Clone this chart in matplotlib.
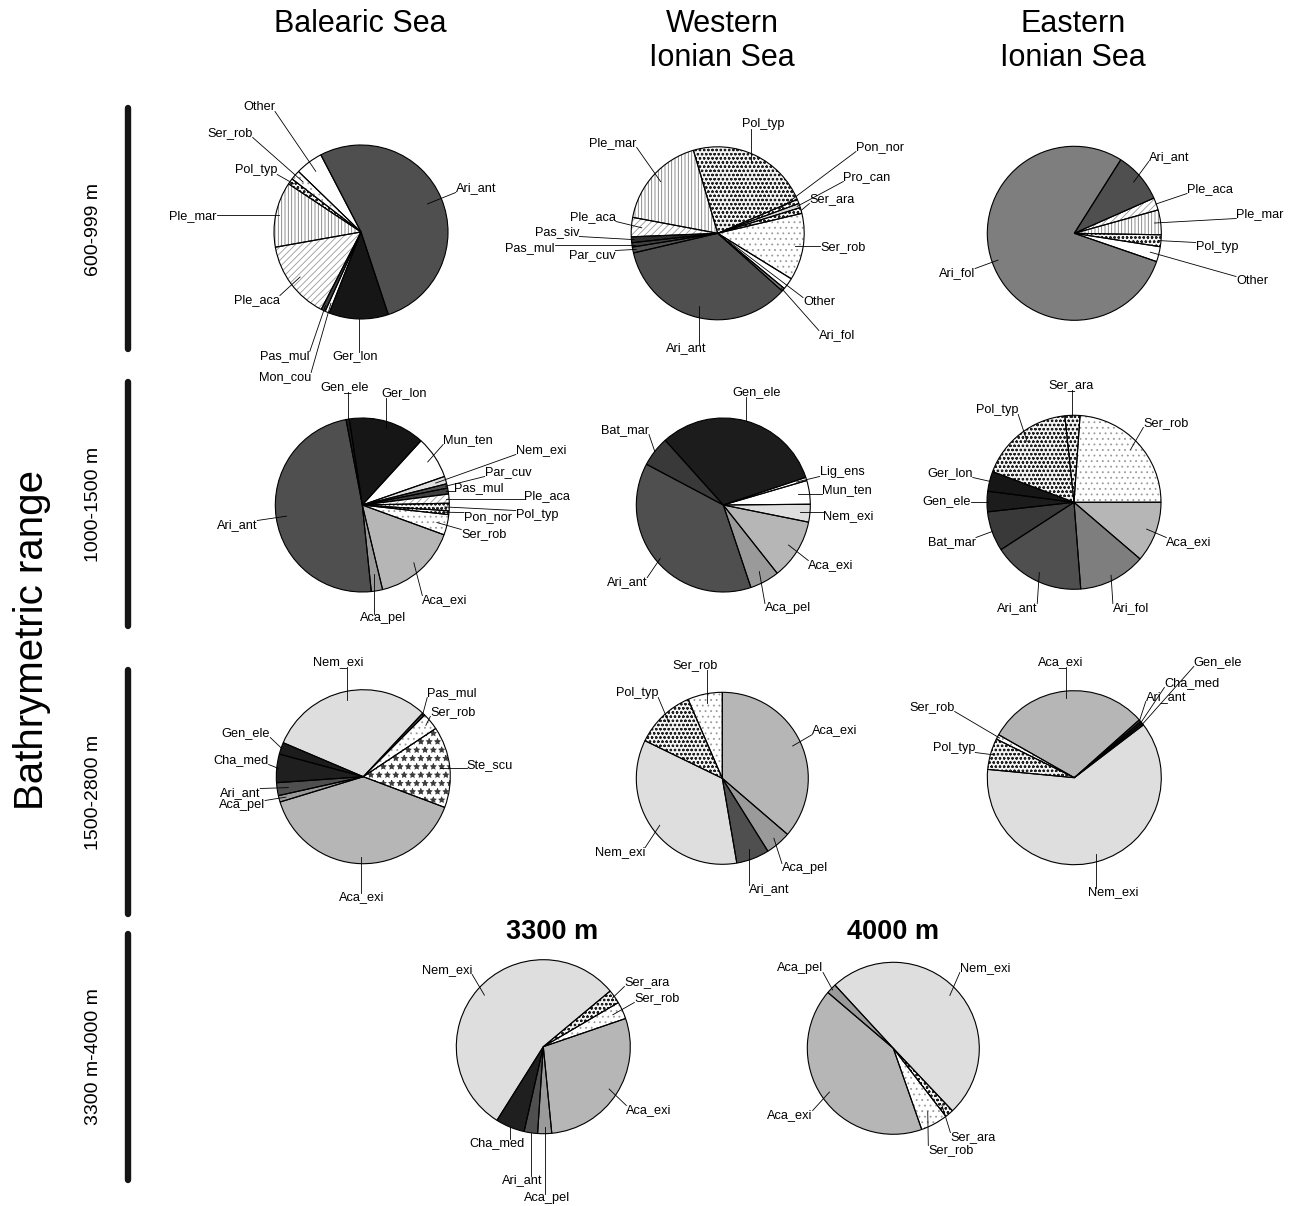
import math
import matplotlib
matplotlib.use("Agg")
import matplotlib.pyplot as plt

plt.rcParams["font.family"] = ["Liberation Sans", "DejaVu Sans"]
plt.rcParams["hatch.linewidth"] = 0.6

W, H = 1293, 1206

# ---------------- data: percentage of catch per species (clockwise order) ----
bal_600_species = ["Ari_ant", "Ger_lon", "Mon_cou", "Pas_mul", "Ple_aca",
                   "Ple_mar", "Pol_typ", "Ser_rob", "Other"]
bal_600_pct = [52.4, 11.0, 0.8, 0.8, 14.6, 12.1, 1.1, 1.8, 5.1]

wio_600_species = ["Pol_typ", "Pon_nor", "Pro_can", "Ser_ara", "Ser_rob",
                   "Other", "Ari_fol", "Ari_ant", "Par_cuv", "Pas_mul",
                   "Pas_siv", "Ple_aca", "Ple_mar"]
wio_600_pct = [23.1, 0.8, 0.8, 1.1, 12.5, 2.2, 0.6, 34.7, 1.1, 0.8, 1.1, 3.6, 17.5]

eio_600_species = ["Ari_ant", "Ple_aca", "Ple_mar", "Pol_typ", "Other", "Ari_fol"]
eio_600_pct = [9.4, 2.3, 4.6, 2.2, 2.8, 78.7]

bal_1000_species = ["Gen_ele", "Ger_lon", "Mun_ten", "Nem_exi", "Par_cuv",
                    "Pas_mul", "Ple_aca", "Pol_typ", "Pon_nor", "Ser_rob",
                    "Aca_exi", "Aca_pel", "Ari_ant"]
bal_1000_pct = [0.6, 14.2, 7.9, 1.4, 0.8, 1.1, 1.7, 1.4, 0.7, 3.8, 15.7, 2.1, 48.7]

wio_1000_species = ["Gen_ele", "Lig_ens", "Mun_ten", "Nem_exi", "Aca_exi",
                    "Aca_pel", "Ari_ant", "Bat_mar"]
wio_1000_pct = [31.5, 0.6, 4.4, 3.3, 11.2, 5.5, 37.9, 5.6]

eio_1000_species = ["Ser_rob", "Aca_exi", "Ari_fol", "Ari_ant", "Bat_mar",
                    "Gen_ele", "Ger_lon", "Pol_typ", "Ser_ara"]
eio_1000_pct = [23.9, 11.3, 12.5, 17.1, 7.4, 3.8, 3.7, 17.6, 2.8]

bal_1500_species = ["Nem_exi", "Pas_mul", "Ser_rob", "Ste_scu", "Aca_exi",
                    "Aca_pel", "Ari_ant", "Cha_med", "Gen_ele"]
bal_1500_pct = [30.6, 0.5, 3.2, 15.1, 39.6, 1.2, 2.4, 5.3, 2.2]

wio_1500_species = ["Aca_exi", "Aca_pel", "Ari_ant", "Nem_exi", "Pol_typ", "Ser_rob"]
wio_1500_pct = [36.3, 4.8, 6.2, 34.9, 11.3, 6.5]

eio_1500_species = ["Aca_exi", "Ari_ant", "Cha_med", "Gen_ele", "Nem_exi",
                    "Pol_typ", "Ser_rob"]
eio_1500_pct = [30.2, 0.4, 0.4, 0.4, 61.9, 5.8, 0.9]

d3300_species = ["Ser_ara", "Ser_rob", "Aca_exi", "Aca_pel", "Ari_ant",
                 "Cha_med", "Nem_exi"]
d3300_pct = [2.6, 3.2, 28.7, 2.6, 2.5, 5.4, 55.0]

d4000_species = ["Nem_exi", "Ser_ara", "Ser_rob", "Aca_exi", "Aca_pel"]
d4000_pct = [49.8, 1.6, 5.1, 41.6, 1.9]

area_titles = [("Balearic Sea",), ("Western", "Ionian Sea"), ("Eastern", "Ionian Sea")]
depth_labels = ["600-999 m", "1000-1500 m", "1500-2800 m", "3300 m-4000 m"]
deep_titles = ["3300 m", "4000 m"]

# ---------------- fill style per species: face, hatch, hatch colour ----------
STYLE = {
    "Ari_ant": ("#4f4f4f", None, None),
    "Ari_fol": ("#7e7e7e", None, None),
    "Ger_lon": ("#161616", None, None),
    "Gen_ele": ("#1c1c1c", None, None),
    "Cha_med": ("#1f1f1f", None, None),
    "Bat_mar": ("#393939", None, None),
    "Aca_exi": ("#b6b6b6", None, None),
    "Aca_pel": ("#9a9a9a", None, None),
    "Nem_exi": ("#dedede", None, None),
    "Pas_mul": ("#404040", None, None),
    "Pas_siv": ("#2c2c2c", None, None),
    "Par_cuv": ("#505050", None, None),
    "Pro_can": ("#d8d8d8", None, None),
    "Ser_rob": ("#ffffff", "...", "#9a9a9a"),
    "Ser_ara": ("#f4f4f4", "oooo", "#1e1e1e"),
    "Pol_typ": ("#f4f4f4", "oooo", "#222222"),
    "Pon_nor": ("#ffffff", "oooo", "#303030"),
    "Ple_mar": ("#ffffff", "|||||", "#7a7a7a"),
    "Ple_aca": ("#ffffff", "/////", "#9a9a9a"),
    "Ste_scu": ("#ffffff", "**", "#3a3a3a"),
    "Mun_ten": ("#ffffff", None, None),
    "Lig_ens": ("#ffffff", None, None),
    "Mon_cou": ("#ffffff", None, None),
    "Other": ("#ffffff", None, None),
}

# ---------------- layout (pixel coordinates, y measured downward) -----------
# labels: species -> (text centre x, text centre y, leader depth as fraction of radius)
PIES = [
    dict(species=bal_600_species, pct=bal_600_pct, center=(361, 232), r=87, start=117.5,
         labels={"Ari_ant": (476, 188, 0.83), "Ger_lon": (355, 356, 1.0),
                 "Mon_cou": (285, 377, 0.89), "Pas_mul": (285, 356, 0.94),
                 "Ple_aca": (257, 300, 0.87), "Ple_mar": (193, 216, 0.96),
                 "Pol_typ": (256, 170, 0.95), "Ser_rob": (230, 133, 0.88),
                 "Other": (259, 107, 0.87)}),
    dict(species=wio_600_species, pct=wio_600_pct, center=(717.7, 233.3), r=86.5, start=106.3,
         labels={"Pol_typ": (763, 124, 0.91), "Ple_mar": (613, 143, 0.89),
                 "Pon_nor": (880, 147, 0.77), "Pro_can": (867, 177, 0.97),
                 "Ser_ara": (832, 199, 1.0), "Ser_rob": (843, 247, 0.9),
                 "Other": (819, 302, 0.15), "Ari_fol": (837, 335, 0.97),
                 "Ari_ant": (686, 348, 0.87), "Ple_aca": (593, 217, 0.88),
                 "Pas_siv": (557, 232, 0.97), "Pas_mul": (530, 248, 0.97),
                 "Par_cuv": (592, 255, 0.96)}),
    dict(species=eio_600_species, pct=eio_600_pct, center=(1074.3, 233.3), r=87, start=57.7,
         labels={"Ari_ant": (1169, 157, 0.9), "Ple_aca": (1210, 189, 1.0),
                 "Ple_mar": (1260, 214, 0.93), "Pol_typ": (1217, 247, 0.97),
                 "Other": (1252, 281, 0.9), "Ari_fol": (957, 273, 0.93)}),
    dict(species=bal_1000_species, pct=bal_1000_pct, center=(362.3, 505), r=87, start=100.8,
         labels={"Gen_ele": (345, 387, 1.0), "Ger_lon": (404, 393, 0.92),
                 "Mun_ten": (468, 440, 0.9), "Nem_exi": (541, 450, 0.88),
                 "Par_cuv": (508, 472, 0.98), "Pas_mul": (479, 488, 0.98),
                 "Ple_aca": (547, 496, 0.97), "Pol_typ": (537, 515, 0.95),
                 "Pon_nor": (488, 517, 0.93), "Ser_rob": (484, 534, 0.88),
                 "Aca_exi": (445, 600, 0.89), "Aca_pel": (383, 618, 0.8),
                 "Ari_ant": (237, 525, 0.88)}),
    dict(species=wio_1000_species, pct=wio_1000_pct, center=(723.3, 505), r=87, start=131.9,
         labels={"Gen_ele": (757, 392, 1.0), "Bat_mar": (625, 430, 1.0),
                 "Lig_ens": (842, 472, 0.88), "Mun_ten": (847, 490, 0.87),
                 "Nem_exi": (848, 516, 0.88), "Aca_exi": (831, 565, 0.88),
                 "Aca_pel": (788, 608, 0.87), "Ari_ant": (627, 582, 0.95)}),
    dict(species=eio_1000_species, pct=eio_1000_pct, center=(1074, 502.3), r=87, start=86,
         labels={"Ser_ara": (1071, 385, 0.98), "Pol_typ": (997, 410, 0.88),
                 "Ser_rob": (1166, 423, 0.89), "Ger_lon": (950, 473, 1.0),
                 "Gen_ele": (947, 501, 0.99), "Bat_mar": (952, 542, 1.0),
                 "Ari_ant": (1017, 608, 0.9), "Ari_fol": (1131, 608, 0.94),
                 "Aca_exi": (1189, 542, 0.89)}),
    dict(species=bal_1500_species, pct=bal_1500_pct, center=(363.3, 776.7), r=87, start=157,
         labels={"Nem_exi": (338, 662, 0.9), "Pas_mul": (452, 693, 0.98),
                 "Ser_rob": (453, 712, 0.93), "Ste_scu": (490, 765, 0.89),
                 "Gen_ele": (246, 733, 0.99), "Cha_med": (241, 760, 0.98),
                 "Ari_ant": (240, 793, 0.87), "Aca_pel": (242, 805, 0.92),
                 "Aca_exi": (362, 897, 0.92)}),
    dict(species=wio_1500_species, pct=wio_1500_pct, center=(722.3, 778.3), r=86, start=90,
         labels={"Ser_rob": (695, 665, 0.9), "Pol_typ": (637, 693, 0.9),
                 "Aca_exi": (835, 730, 0.9), "Aca_pel": (805, 868, 0.92),
                 "Ari_ant": (769, 889, 0.88), "Nem_exi": (620, 852, 0.91)}),
    dict(species=eio_1500_species, pct=eio_1500_pct, center=(1074.3, 777.7), r=87, start=150.4,
         labels={"Aca_exi": (1061, 662, 0.92), "Gen_ele": (1218, 662, 0.99),
                 "Cha_med": (1192, 683, 0.99), "Ari_ant": (1166, 697, 0.99),
                 "Ser_rob": (932, 707, 0.97), "Pol_typ": (954, 748, 0.95),
                 "Nem_exi": (1113, 892, 0.91)}),
    dict(species=d3300_species, pct=d3300_pct, center=(543.3, 1046.7), r=87, start=39.8,
         labels={"Nem_exi": (447, 970, 0.9), "Ser_ara": (647, 982, 0.97),
                 "Ser_rob": (657, 998, 0.88), "Aca_exi": (649, 1110, 0.9),
                 "Cha_med": (497, 1143, 1.0), "Ari_ant": (522, 1180, 1.0),
                 "Aca_pel": (547, 1198, 0.92)}),
    dict(species=d4000_species, pct=d4000_pct, center=(893.3, 1048.3), r=86, start=132.7,
         labels={"Aca_pel": (800, 968, 0.98), "Nem_exi": (985, 968, 0.9),
                 "Aca_exi": (790, 1115, 0.9), "Ser_ara": (973, 1137, 0.87),
                 "Ser_rob": (951, 1150, 0.84)}),
]

TITLE_X = [360, 722, 1073]
DEPTH_Y = [229, 504, 792, 1057]
BAR_SPANS = [(108, 349), (382, 626), (670, 914), (934, 1180)]
DEEP_TITLE_X = [552, 893]


def Y(py):
    return H - py


fig = plt.figure(figsize=(W / 100, H / 100), dpi=100, facecolor="white")
ax = fig.add_axes([0, 0, 1, 1])

leaders = []
for p in PIES:
    cx, cy = p["center"]
    c = (cx, Y(cy))
    wedges, _ = ax.pie(p["pct"], startangle=p["start"], counterclock=False,
                       center=c, radius=p["r"], frame=True,
                       wedgeprops=dict(linewidth=0))
    for w, sp in zip(wedges, p["species"]):
        fc, hatch, hc = STYLE[sp]
        w.set_facecolor(fc)
        if hatch:
            w.set_hatch(hatch)
            w.set_edgecolor(hc)
        else:
            w.set_edgecolor(fc)
    ax.pie(p["pct"], startangle=p["start"], counterclock=False,
           center=c, radius=p["r"], frame=True,
           wedgeprops=dict(fill=False, edgecolor="black", linewidth=0.8))
    for w, sp in zip(wedges, p["species"]):
        if sp not in p["labels"]:
            continue
        tx, ty, frac = p["labels"][sp]
        mid = math.radians(0.5 * (w.theta1 + w.theta2))
        ix = c[0] + frac * p["r"] * math.cos(mid)
        iy = c[1] + frac * p["r"] * math.sin(mid)
        t = ax.text(tx, Y(ty), sp, ha="center", va="center", fontsize=9.2)
        leaders.append((t, ix, iy))

# column headers
for x, lines in zip(TITLE_X, area_titles):
    for k, s in enumerate(lines):
        ax.text(x, Y(24 + 34 * k), s, ha="center", va="center", fontsize=22)

# deep-station titles
for x, s in zip(DEEP_TITLE_X, deep_titles):
    ax.text(x, Y(932), s, ha="center", va="center", fontsize=19.5, fontweight="bold")

# depth axis: bars and labels
for (y0, y1), lab, yc in zip(BAR_SPANS, depth_labels, DEPTH_Y):
    ax.plot([128, 128], [Y(y0), Y(y1)], color="#151515", lw=4.6,
            solid_capstyle="round")
    ax.text(93, Y(yc), lab, rotation=90, ha="center", va="center", fontsize=14)
ax.text(32, Y(640), "Bathrymetric range", rotation=90, ha="center", va="center",
        fontsize=29)

ax.set_xlim(0, W)
ax.set_ylim(0, H)
ax.set_aspect("auto")
ax.axis("off")

# leader lines from each slice to the nearest edge of its label
fig.canvas.draw()
renderer = fig.canvas.get_renderer()
inv = ax.transData.inverted()
for t, ix, iy in leaders:
    bb = t.get_window_extent(renderer)
    (x0, y0), (x1, y1) = inv.transform([[bb.x0, bb.y0], [bb.x1, bb.y1]])
    y0 += 1.5
    y1 -= 1.5
    ox = min(max(ix, x0), x1)
    oy = min(max(iy, y0), y1)
    ax.plot([ix, ox], [iy, oy], color="black", lw=0.6)

fig.savefig("out.png", dpi=100, facecolor="white")
